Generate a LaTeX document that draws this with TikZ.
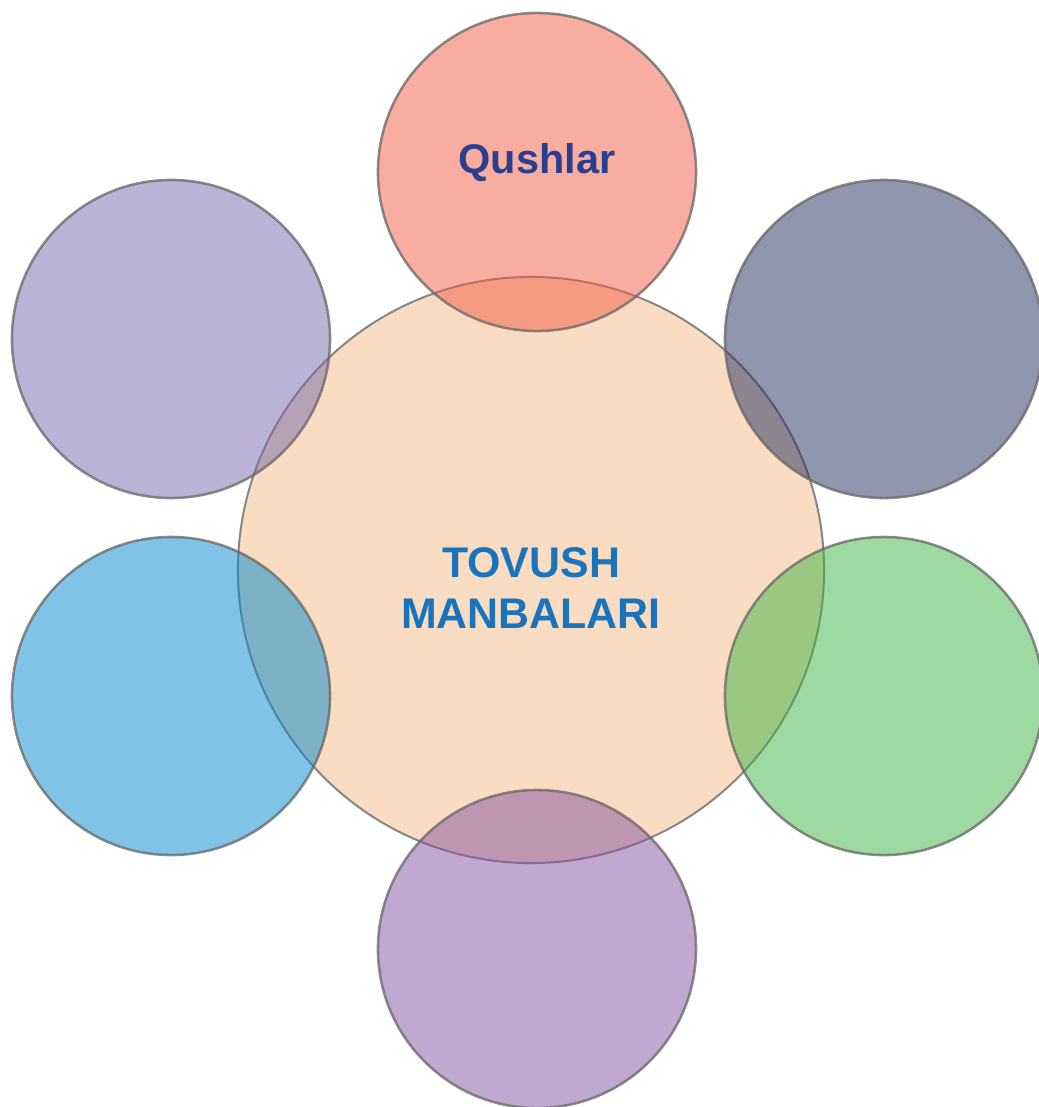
\documentclass[tikz,border=0pt]{standalone}
\usepackage{fontspec}
\setmainfont{Liberation Sans}
\definecolor{peach}{HTML}{FADCC2}
\definecolor{salmon}{HTML}{F15B41}
\definecolor{lavender}{HTML}{7567AB}
\definecolor{slate}{HTML}{1F2D5B}
\definecolor{sky}{HTML}{0187CD}
\definecolor{leaf}{HTML}{3BB341}
\definecolor{plum}{HTML}{8351A1}
\definecolor{rimgray}{HTML}{858585}
\definecolor{navy}{HTML}{2A3F8F}
\definecolor{titleblue}{HTML}{1A74BC}

\begin{document}
\begin{tikzpicture}[x=0.025cm, y=-0.025cm,
  ring/.style={circle, draw=black!60, line width=1.8pt, minimum size=7.95cm,
               inner sep=0pt, fill opacity=0.5, draw opacity=0.75}]
  \useasboundingbox (0,0) rectangle (1039,1107);
  % central circle
  \node[circle, draw=rimgray, fill=peach, line width=1.4pt, minimum size=14.65cm,
        inner sep=0pt] (hub) at (531,570) {};
  % outer circles
  \node[ring, fill=salmon]   (top)      at (537,172) {};
  \node[ring, fill=lavender] (topleft)  at (171,339) {};
  \node[ring, fill=slate]    (topright) at (884,339) {};
  \node[ring, fill=sky]      (botleft)  at (171,696) {};
  \node[ring, fill=leaf]     (botright) at (884,696) {};
  \node[ring, fill=plum]     (bottom)   at (537,949) {};
  % labels
  \node[anchor=base, inner sep=0pt, text=navy,
        font=\fontsize{29.5}{35}\selectfont\bfseries] (qushlar) at (537,173) {Qushlar};
  \node[align=center, inner sep=0pt, text=titleblue,
        font=\fontsize{30.5}{36}\selectfont\bfseries] (title) at (531,588) {TOVUSH\\MANBALARI};
\end{tikzpicture}
\end{document}
